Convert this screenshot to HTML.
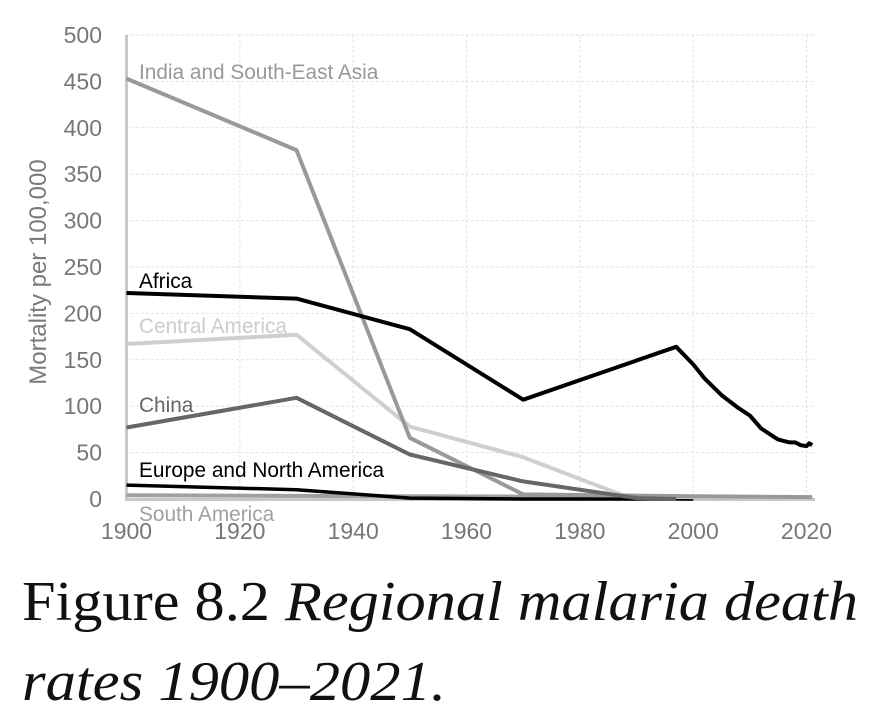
<!DOCTYPE html>
<html><head><meta charset="utf-8"><style>
html,body{margin:0;padding:0;background:#fff;}
svg{display:block;}
</style></head><body>
<svg id="chart" width="883" height="722" viewBox="0 0 883 722" xmlns="http://www.w3.org/2000/svg">
<g id="grid"></g>
<g id="axes"></g>
<g id="series"></g>
<g id="labels"></g>
<text transform="translate(46,272) rotate(-90)" text-anchor="middle" font-family="Liberation Sans, sans-serif" font-size="24" fill="#7a7a7a">Mortality per 100,000</text>
<text x="22" y="620" font-family="Liberation Serif, serif" font-size="56" fill="#111" textLength="836" lengthAdjust="spacingAndGlyphs">Figure 8.2 <tspan font-style="italic">Regional malaria death</tspan></text>
<text x="22" y="700" font-family="Liberation Serif, serif" font-size="56" font-style="italic" fill="#111" textLength="424" lengthAdjust="spacingAndGlyphs">rates 1900–2021.</text>
</svg>
<script>
const xTicks = [1900,1920,1940,1960,1980,2000,2020];
const yTicks = [0,50,100,150,200,250,300,350,400,450,500];
const africaYears = [1900,1930,1950,1970,1997,2000,2002,2005,2008,2010,2012,2014,2015,2017,2018,2019,2020,2020.5,2021];
const africaValues = [222,216,183,107,164,145,130,112,98,90,76,68,64,61,61,58,57,60,58];
const indiaYears = [1900,1930,1950,1970,2000,2021];
const indiaValues = [453,376,66,5,3,2];
const centralYears = [1900,1930,1950,1970,1988,2000,2021];
const centralValues = [167,177,78,45,3,2,1];
const chinaYears = [1900,1930,1950,1970,1990,1997];
const chinaValues = [77,109,48,19,1,0];
const europeYears = [1900,1930,1950,1970,2000];
const europeValues = [15,10,1,0,0];
const southYears = [1900,1950,2000,2021];
const southValues = [4,3,2,1];

const NS='http://www.w3.org/2000/svg';
function xs(v){return 126.5+(v-1900)*(806.5-126.5)/120;}
function ys(v){return 499-v*(499-35)/500;}
function mk(tag,attrs,parent){const e=document.createElementNS(NS,tag);for(const k in attrs)e.setAttribute(k,attrs[k]);parent.appendChild(e);return e;}
const grid=document.getElementById('grid'),axes=document.getElementById('axes'),ser=document.getElementById('series'),lab=document.getElementById('labels');
yTicks.forEach(t=>{
  if(t>0){const g=mk('line',{x1:126,x2:815,y1:ys(t),y2:ys(t),stroke:'#e2e2e2','stroke-width':1,'stroke-dasharray':'3,2'},grid);
  
  }
  const l=mk('text',{x:102,y:ys(t)+8,'text-anchor':'end','font-family':'Liberation Sans, sans-serif','font-size':23,fill:'#777'},axes);
  l.textContent=t;
  
  
});
xTicks.forEach(t=>{
  if(t>1900){const g=mk('line',{x1:xs(t),x2:xs(t),y1:35,y2:499,stroke:'#e2e2e2','stroke-width':1,'stroke-dasharray':'3,2'},grid);
  
  }
  const l=mk('text',{x:xs(t),y:539,'text-anchor':'middle','font-family':'Liberation Sans, sans-serif','font-size':23,fill:'#777'},axes);
  l.textContent=t;
  
  
});
const ya=mk('line',{x1:126.5,x2:126.5,y1:35,y2:500,stroke:'#c8c8c8','stroke-width':3},axes);


const xa=mk('line',{x1:125,x2:815,y1:499.5,y2:499.5,stroke:'#c8c8c8','stroke-width':3},axes);


function line(years,vals,color,w,name){
  const d=years.map((y,i)=>(i?'L':'M')+xs(y).toFixed(1)+' '+ys(vals[i]).toFixed(1)).join(' ');
  const p=mk('path',{d:d,fill:'none',stroke:color,'stroke-width':w,'stroke-linejoin':'round'},ser);
  
  
}
line(southYears,southValues,'#a0a0a0',4,'south-america-line');
line(europeYears,europeValues,'#000',3.5,'europe-north-america-line');
line(centralYears,centralValues,'#cfcfcf',4,'central-america-line');
line(indiaYears,indiaValues,'#999',4,'india-se-asia-line');
line(chinaYears,chinaValues,'#666',4,'china-line');
line(africaYears,africaValues,'#000',4,'africa-line');
function label(txt,x,y,color,name){
  const t=mk('text',{x:x,y:y,'font-family':'Liberation Sans, sans-serif','font-size':20.8,fill:color},lab);
  t.textContent=txt;
  
  
}
label('India and South-East Asia',139,79,'#999','india-label');
label('Africa',139,288,'#000','africa-label');
label('Central America',139,333,'#cccccc','central-america-label');
label('China',139,412,'#666','china-label');
label('Europe and North America',139,477,'#000','europe-label');
label('South America',139,521,'#a0a0a0','south-america-label');
</script>
</body></html>
